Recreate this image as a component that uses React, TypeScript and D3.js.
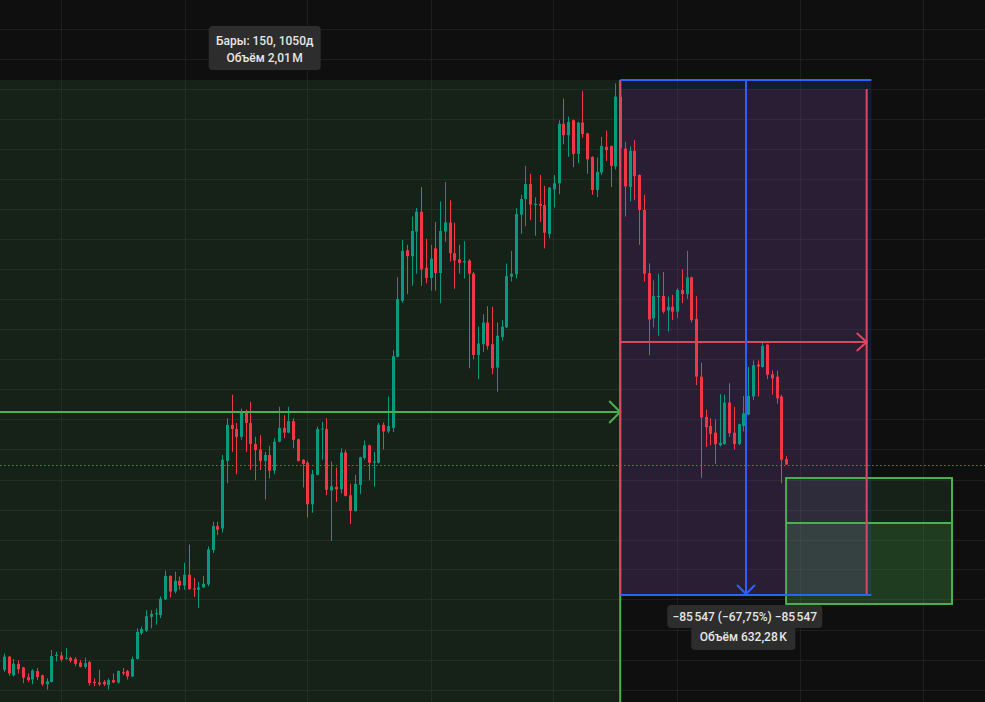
import React from "react";
import * as d3 from "d3";

// Weekly candles (prices in thousands)
const opens = [28.3,30.5,27.4,29.3,28.7,27.1,26.7,28.1,27.4,25.9,26.3,30.6,30.7,30.2,30.3,30.1,29.5,28.8,29.6,26.3,26.2,26.3,25.8,26.6,26.2,27.9,28.1,27.2,30.1,34.4,34.8,37.1,37.5,37.4,40.0,43.9,41.3,43.1,42.3,44.1,41.8,41.6,42.0,42.5,48.2,52.2,51.8,63.0,69.0,68.3,67.0,71.2,69.3,65.8,64.9,63.0,64.0,61.4,66.2,68.5,67.7,69.6,66.6,63.2,62.7,55.8,60.7,68.3,68.3,58.1,58.7,58.3,64.4,57.3,54.7,59.0,63.5,65.6,62.7,62.7,69.0,67.9,68.5,80.3,89.6,98.0,97.0,101.1,104.4,95.1,93.4,98.3,94.2,101.1,102.6,97.5,96.5,96.0,96.3,94.1,80.6,82.4,86.0,82.4,78.5,83.6,85.2,93.6,94.0,103.9,106.5,109.0,105.5,105.7,105.5,100.7,108.1,109.1,119.0,117.1,119.6,114.0,119.2,117.4,113.5,108.0,110.9,115.2,115.3,111.9,123.5,114.9,108.5,114.5,110.5,104.7,94.2,86.7,90.2,90.4,88.0,88.6,87.8,91.4,90.7,93.5,86.6,77.0,70.3,68.8,67.7,65.6,65.8,72.7,67.7,65.8,68.8,70.7,73.7,79.0,78.6,82.3,77.4,77.0,73.7,63.3];
const highs = [31.0,30.6,30.1,29.9,28.8,27.7,28.4,28.6,27.5,26.9,31.6,31.3,31.3,31.9,30.5,30.4,29.9,30.3,29.8,26.9,28.3,26.6,26.9,27.7,28.2,28.6,28.3,30.5,35.2,35.5,38.2,38.2,38.5,40.5,44.8,44.0,44.6,43.8,46.1,49.1,43.6,42.9,43.9,48.8,52.9,52.9,64.0,70.1,74.0,69.3,71.7,71.5,72.8,67.0,67.3,64.5,65.5,66.8,72.0,70.6,72.0,70.1,66.7,63.3,63.0,61.5,68.7,69.5,70.1,62.9,61.9,65.1,64.8,59.2,60.7,63.7,66.4,65.7,64.5,69.3,69.4,73.7,81.4,93.5,99.7,98.9,103.6,105.0,108.5,99.9,98.9,102.7,106.1,109.3,106.3,102.6,98.9,99.5,96.5,94.4,85.3,87.4,88.7,88.6,86.0,86.4,95.8,97.9,105.0,107.2,112.0,110.7,106.8,110.5,108.7,108.5,110.5,119.6,123.2,120.2,119.7,119.3,124.5,117.5,113.6,113.4,116.8,117.9,115.4,125.7,126.3,116.0,115.3,116.3,110.6,107.2,95.8,93.0,94.1,94.4,90.3,90.6,91.7,94.8,97.9,93.6,90.4,79.3,71.5,70.1,69.9,74.1,74.0,75.9,72.0,69.2,73.8,78.6,79.7,79.7,82.6,82.4,78.0,78.0,74.0,63.8];
const lows = [28.0,27.3,27.2,27.7,26.1,26.3,25.9,26.6,25.6,25.0,26.2,29.7,29.7,30.0,29.5,28.9,28.7,28.5,25.7,25.6,25.6,25.6,25.0,26.1,26.0,27.4,26.7,27.1,30.0,34.1,34.6,35.2,35.8,36.9,39.9,40.3,41.0,41.6,41.6,41.6,40.4,38.6,41.9,42.2,47.7,50.7,51.1,59.3,64.5,60.8,66.5,64.5,61.5,59.8,61.5,56.6,60.1,60.8,66.1,66.8,67.6,65.1,62.9,58.6,53.6,54.4,60.6,63.2,57.3,49.7,56.2,57.6,57.1,52.5,54.6,57.5,63.2,59.8,58.7,62.6,64.9,67.6,67.8,80.2,89.3,90.7,92.1,94.1,92.1,92.5,91.3,91.3,89.2,99.4,96.1,91.6,94.1,93.3,78.4,79.9,76.6,81.1,81.5,77.4,74.5,83.0,85.1,92.8,93.3,100.7,102.0,103.0,100.4,102.7,98.3,100.0,105.1,107.3,115.6,113.5,111.8,112.5,116.7,110.7,107.2,106.8,110.5,112.8,108.5,111.4,112.2,103.6,106.1,106.3,98.9,92.8,80.6,85.2,83.8,87.5,84.5,86.4,86.7,89.2,89.9,86.0,75.6,60.2,65.3,65.6,62.5,65.4,65.7,67.0,64.9,65.6,67.9,70.6,73.1,73.7,78.5,76.6,74.0,72.5,59.3,62.4];
const closes = [30.5,27.7,29.3,28.4,27.0,26.6,28.2,27.1,25.9,26.4,30.6,30.8,30.0,30.3,29.8,29.3,28.8,29.4,26.1,26.1,25.9,25.9,26.6,26.2,28.1,27.7,27.2,30.1,34.6,35.1,37.2,37.6,37.7,40.1,43.9,41.3,43.1,42.3,44.1,41.7,41.7,42.0,42.6,48.3,52.2,51.6,63.2,69.0,68.3,67.0,71.2,69.3,65.8,64.8,63.0,64.0,61.4,66.2,68.5,67.7,69.6,66.5,63.0,62.5,55.8,60.8,68.3,68.4,58.2,58.8,58.3,64.4,57.2,54.7,59.2,63.6,65.6,62.7,62.9,69.0,67.9,68.8,80.4,89.9,97.9,97.0,101.2,104.4,94.8,93.4,96.6,94.2,101.2,102.6,97.5,96.3,95.9,96.2,94.1,80.6,82.5,86.0,82.1,78.4,83.8,85.3,93.7,94.1,104.0,106.5,109.0,105.6,105.7,105.4,100.9,108.4,109.1,119.0,117.1,119.3,114.0,119.2,117.3,113.1,108.0,111.0,115.3,114.6,112.0,123.5,115.0,108.6,114.5,110.3,104.7,94.1,86.5,90.4,90.4,87.8,88.6,87.8,91.4,90.7,93.5,86.4,77.0,70.2,68.6,67.5,65.8,66.0,72.7,67.6,65.8,69.1,70.9,73.8,78.9,78.7,82.1,77.3,76.7,73.4,63.2,62.4];

// Grid
const gridPrices = [134.7,129.7,124.7,119.8,114.8,109.8,104.8,99.8,94.8,89.9,84.9,79.9,74.9,69.9,64.9,59.9,54.9,49.9,45.0,40.0,35.0,30.0,25.0];
const gridBars = [12.1,38.1,64.0,90.0,115.9,141.9,167.9,193.8];

// Drawings
const greenRange = { start: -20, end: 130, top: 126.27, bottom: 15.98 };
const priceRange = { start: 130, end: 183, high: 126.27, low: 40.72 };
const dateRange = { start: 130, end: 182, top: 124.78, bottom: 40.72 };
const position = { start: 165, end: 200, target: 60.16, entry: 52.69, stop: 39.24 };

const greenLabel = ["Бары: 150, 1050д", "Объём 2,01\u202fM"];
const rangeLabel = ["\u221285\u202f547 (\u221267,75%) \u221285\u202f547", "Объём 632,28\u202fK"];

const W = 985;
const H = 702;
const UP = "#089981";
const DOWN = "#f23645";
const GREEN = "#4caf50";
const BLUE = "#2962ff";
const PINK = "#d94862";
const FONT = "Roboto, 'Noto Sans', sans-serif";

export default function App() {
  const x = d3.scaleLinear().domain([0, 165]).range([4, 786.1]);
  const y = d3.scaleLinear().domain([22.96, 139.56]).range([H, 0]);
  const n = closes.length;
  const lastPrice = closes[n - 1];

  const gx0 = x(greenRange.start), gx1 = x(greenRange.end);
  const gyTop = y(greenRange.top), gyBot = y(greenRange.bottom);
  const gMid = y((greenRange.top + greenRange.bottom) / 2);

  const px0 = x(priceRange.start), px1 = x(priceRange.end);
  const pyTop = y(priceRange.high), pyBot = y(priceRange.low);
  const pMidX = (px0 + px1) / 2;

  const dx0 = x(dateRange.start), dx1 = x(dateRange.end);
  const dyTop = y(dateRange.top), dyBot = y(dateRange.bottom);
  const dMid = (dyTop + dyBot) / 2;

  const bx0 = x(position.start), bx1 = x(position.end);
  const byT = y(position.target), byE = y(position.entry), byS = y(position.stop);

  const gCx = (gx0 + gx1) / 2;

  return (
    <svg width={W} height={H} style={{ position: "fixed", left: 0, top: 0, display: "block" }}>
      <rect x={0} y={0} width={W} height={H} fill="#0f0f0f" />
      {/* grid */}
      {gridPrices.map((p, i) => (
        <line key={"h" + i} x1={0} x2={W} y1={Math.round(y(p)) + 0.5} y2={Math.round(y(p)) + 0.5} stroke="rgba(255,255,255,0.06)" />
      ))}
      {gridBars.map((b, i) => (
        <line key={"v" + i} y1={0} y2={H} x1={Math.round(x(b)) + 0.5} x2={Math.round(x(b)) + 0.5} stroke="rgba(255,255,255,0.06)" />
      ))}

      {/* fills */}
      <rect x={gx0} y={gyTop} width={gx1 - gx0} height={gyBot - gyTop} fill="rgba(76,175,80,0.12)" />
      <rect x={bx0} y={byT} width={bx1 - bx0} height={byE - byT} fill="rgba(76,175,80,0.12)" />
      <rect x={bx0} y={byE} width={bx1 - bx0} height={byS - byE} fill="rgba(76,175,80,0.28)" />
      <rect x={px0} y={pyTop} width={px1 - px0} height={pyBot - pyTop} fill="rgba(41,98,255,0.15)" />
      <rect x={dx0} y={dyTop} width={dx1 - dx0} height={dyBot - dyTop} fill="rgba(242,54,69,0.1)" />

      {/* candles */}
      {closes.map((c, i) => {
        const o = opens[i];
        const up = c >= o;
        const col = up ? UP : DOWN;
        const cx = Math.round(x(i));
        const yTop = y(Math.max(o, c));
        const yBot = y(Math.min(o, c));
        return (
          <g key={i}>
            <rect x={cx} y={y(highs[i])} width={1} height={y(lows[i]) - y(highs[i])} fill={col} />
            <rect x={cx - 1} y={yTop} width={3} height={Math.max(1, yBot - yTop)} fill={col} />
          </g>
        );
      })}

      {/* last price dotted line */}
      <line x1={0} x2={W} y1={Math.round(y(lastPrice)) + 0.5} y2={Math.round(y(lastPrice)) + 0.5} stroke={DOWN} strokeDasharray="1.5 2.5" />

      {/* green date range */}
      <line x1={gx1} x2={gx1} y1={gyTop} y2={H} stroke={GREEN} strokeWidth={2} />
      <line x1={0} x2={gx1} y1={Math.round(gMid)} y2={Math.round(gMid)} stroke={GREEN} strokeWidth={2} />
      <path d={`M${gx1 - 11},${Math.round(gMid) - 11} L${gx1},${Math.round(gMid)} L${gx1 - 11},${Math.round(gMid) + 11}`} fill="none" stroke={GREEN} strokeWidth={2} />

      {/* position box */}
      <rect x={bx0} y={byT} width={bx1 - bx0} height={byS - byT} fill="none" stroke={GREEN} strokeWidth={2} />
      <line x1={bx0} x2={bx1} y1={byE} y2={byE} stroke={GREEN} strokeWidth={2} />

      {/* pink date range */}
      <line x1={dx0} x2={dx0} y1={pyTop} y2={dyBot} stroke={PINK} strokeWidth={2} />
      <line x1={dx1} x2={dx1} y1={dyTop} y2={dyBot} stroke={PINK} strokeWidth={2} />
      <line x1={dx0} x2={dx1} y1={Math.round(dMid)} y2={Math.round(dMid)} stroke={PINK} strokeWidth={2} />
      <path d={`M${dx1 - 10},${Math.round(dMid) - 9} L${dx1},${Math.round(dMid)} L${dx1 - 10},${Math.round(dMid) + 9}`} fill="none" stroke={PINK} strokeWidth={2} />

      {/* blue price range */}
      <line x1={px0} x2={px1} y1={pyTop} y2={pyTop} stroke={BLUE} strokeWidth={2} />
      <line x1={px0} x2={px1} y1={pyBot} y2={pyBot} stroke={BLUE} strokeWidth={2} />
      <line x1={Math.round(pMidX)} x2={Math.round(pMidX)} y1={pyTop} y2={pyBot} stroke={BLUE} strokeWidth={2} />
      <path d={`M${Math.round(pMidX) - 9},${pyBot - 10} L${Math.round(pMidX)},${pyBot - 1} L${Math.round(pMidX) + 9},${pyBot - 10}`} fill="none" stroke={BLUE} strokeWidth={2} />

      {/* labels */}
      <g fontFamily={FONT} fontSize={12} fontWeight={500} fill="#e6e6e6" textAnchor="middle">
        <rect x={gCx - 56} y={26} width={112} height={44} rx={4} fill="#2d2d2d" />
        <text x={gCx} y={45} fill="#e6e6e6">{greenLabel[0]}</text>
        <text x={gCx} y={62} fill="#e6e6e6">{greenLabel[1]}</text>

        <rect x={pMidX - 78.5} y={605} width={155} height={23} rx={4} fill="#2d2d2d" />
        <rect x={pMidX - 54.5} y={626} width={104} height={24} rx={4} fill="#2d2d2d" />
        <text x={pMidX - 1} y={621} fill="#e6e6e6">{rangeLabel[0]}</text>
        <text x={pMidX - 2.5} y={641} fill="#e6e6e6">{rangeLabel[1]}</text>
      </g>
    </svg>
  );
}
